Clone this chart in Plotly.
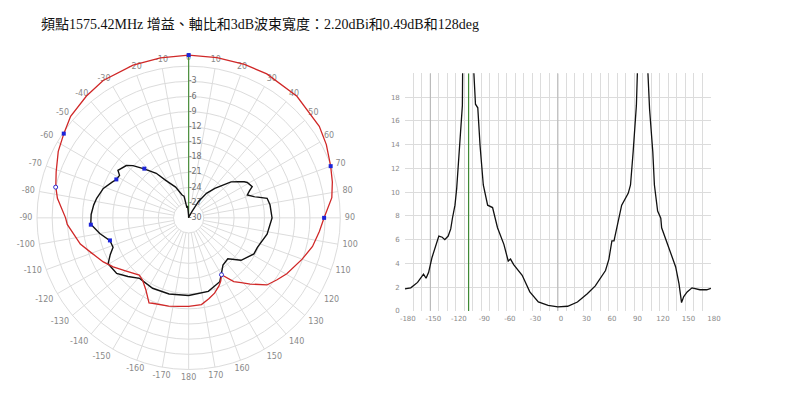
import math
import plotly.graph_objects as go

# ---------------- data ----------------
title_text = "頻點1575.42MHz 增益、軸比和3dB波束寬度：2.20dBi和0.49dB和128deg"

# Polar: gain (red) pattern, angle in deg, value in dB
red_theta = [-180, -173.7, -167.3, -157, -155, -149.2, -143.4, -139.2, -130, -123, -117.3, -110,
             -103.6, -93.1, -90, -81.5, -76.8, -70.8, -63, -55.9, -49.3, -40, -31.9, -20, -10,
             0, 10, 20, 28.5, 41.7, 55, 62, 70, 76, 82, 90, 96, 103, 110, 119.7, 125, 130.6,
             137, 141, 144.7, 150, 153, 156, 161, 166, 171.6, 180]
red_db = [-12.5, -12.4, -12.1, -11.65, -11.45, -13.45, -14.7, -15.05, -13.7, -12.2, -11.0, -9.6,
          -7.95, -5.95, -5.65, -3.75, -3.0, -2.25, -1.05, -0.2, 0.8, 1.45, 2.0, 2.15, 2.15,
          2.2, 2.2, 2.3, 2.4, 2.2, 1.55, 0.85, -0.1, -0.7, -1.4, -3.2, -4.0, -4.85, -6.1, -7.65,
          -8.65, -9.6, -12.1, -13.5, -14.55, -17.0, -16.0, -15.25, -14.25, -13.5, -12.65, -12.5]

# Polar: second (black) pattern
blk_theta = [-180, -165.6, -152.9, -141, -134, -127.7, -119.7, -115, -111.3, -106.2, -100, -93.8,
             -88, -82.2, -78, -71, -65, -62.1, -58.4, -56.1, -50, -46.8, -42.2, -36, -31.4, -23,
             -16, -12, -9.6, -5, -2, 0, 15, 28, 31, 36, 41.6, 49.7, 54, 57, 58.9, 63.9, 66, 68.7,
             72, 76, 80.9, 90, 101.8, 113.2, 118.9, 129, 136.2, 144, 150, 154, 165, 180]
blk_db = [-14.65, -14.45, -14.35, -14.6, -13.3, -12.0, -11.65, -12.9, -13.95, -13.8, -12.15, -10.6,
          -10.7, -11.05, -11.4, -12.15, -13.3, -13.8, -13.95, -13.15, -13.9, -14.9, -16.9, -19.1,
          -21.3, -23.4, -25.3, -25.6, -28.0, -27.6, -29.4, -30.0, -29.8, -28.5, -26.2, -24.0,
          -22.2, -19.0, -17.8, -16.9, -16.45, -16.0, -16.8, -17.55, -16.4, -14.0, -13.7, -13.5,
          -14.15, -15.2, -15.25, -16.65, -18.8, -18.45, -17.1, -15.95, -14.95, -14.65]

# blue cursor markers
mark_fill_theta = [0, -56, 70, 90, -42, -62, -94, -106]
mark_fill_db = [2.2, -0.2, -0.1, -3.2, -16.9, -13.8, -10.6, -13.8]
mark_open_theta = [-77, 150]
mark_open_db = [-3.0, -17.0]

cursor_angle = 0
peak_gain = 2.2

radial_ticks = [-3, -6, -9, -12, -15, -18, -21, -24, -27, -30]
angle_labels = list(range(0, 190, 10)) + list(range(-170, 0, 10))

# Cartesian: axial ratio vs angle
ar_angle = [-180, -173, -165, -158, -155, -152, -148, -144, -140, -136, -133, -129, -126, -124,
            -121, -119, -116, -112.3, -112, -105, -99, -96.9, -94.2, -91.5, -87.7, -82.6, -76.8,
            -75, -71, -63.5, -58.4, -55.7, -52, -42, -33, -23, -11.5, 0, 11.5, 23, 34.6, 44, 50,
            56, 60, 63.5, 66, 69, 71.5, 75, 82.7, 85.4, 88.5, 92.3, 93.6, 100, 105.7, 107.8,
            111.6, 113.5, 117.3, 121, 122, 127, 132.7, 138.5, 142.4, 145.4, 148, 152, 157.7,
            167, 175, 180]
ar_val = [1.86, 1.94, 2.4, 3.1, 2.75, 3.25, 4.5, 5.5, 6.3, 6.2, 6.0, 6.3, 6.9, 7.8,
          8.9, 10.3, 13.4, 17.3, 20.3, 30, 20.3, 17.4, 17.1, 13.9, 10.6, 8.9, 8.7,
          8.1, 7.0, 5.6, 4.2, 4.36, 3.9, 3.0, 1.6, 0.75, 0.47, 0.33, 0.39, 0.75, 1.45, 2.1, 2.8,
          3.4, 4.36, 5.9, 5.9, 7.0, 7.8, 8.9, 9.9, 10.6, 13.4, 17.3, 20.3, 30, 20.3, 17.0,
          13.4, 10.6, 8.4, 7.8, 7.0, 6.0, 4.8, 3.7, 2.3, 0.7, 1.2, 1.6, 1.94,
          1.78, 1.78, 1.9]
ar_cursor = -105
ar_dark_lines = [-150, 0]
x_ticks = list(range(-180, 181, 30))
y_ticks = list(range(0, 20, 2))

# ---------------- figure ----------------
W, H = 800, 394
OFF = 8  # page body margin offset compensation


def px_x(x):
    return (x - OFF) / W


def px_y(y):
    return (H - (y - OFF)) / H


def label_pos(a):
    s, c = math.sin(math.radians(a)), math.cos(math.radians(a))
    v = "top" if c > 0.4 else ("bottom" if c < -0.4 else "middle")
    h = "right" if s > 0.4 else ("left" if s < -0.4 else "center")
    return f"{v} {h}"


fig = go.Figure()
GRID = "#dcdcdc"
LABEL = "#8a8a8a"
SMALL = dict(family="DejaVu Sans", size=7, color=LABEL)

# spokes (angular grid) from -27 dB circle to 0 dB circle
sp_t, sp_r = [], []
for a in range(0, 360, 10):
    sp_t += [a, a, None]
    sp_r += [-27, 0, None]
fig.add_trace(go.Scatterpolar(theta=sp_t, r=sp_r, mode="lines", connectgaps=False,
                              line=dict(color=GRID, width=1), hoverinfo="skip"))

# angular labels (anchored just outside the outer grid circle)
fig.add_trace(go.Scatterpolar(theta=angle_labels, r=[0.9] * len(angle_labels), mode="text",
                              text=[str(a) for a in angle_labels],
                              textposition=[label_pos(a) for a in angle_labels],
                              textfont=dict(family="DejaVu Sans", size=8, color=LABEL),
                              hoverinfo="skip"))

# green cursor line
fig.add_trace(go.Scatterpolar(theta=[cursor_angle, cursor_angle], r=[-30, peak_gain], mode="lines",
                              line=dict(color="#4a8f3c", width=1.2), hoverinfo="skip"))

# radial labels
fig.add_trace(go.Scatterpolar(theta=[cursor_angle] * len(radial_ticks), r=radial_ticks, mode="text",
                              text=[str(v) for v in radial_ticks], textposition="middle right",
                              textfont=dict(family="DejaVu Sans", size=8, color="#707070"),
                              hoverinfo="skip"))

fig.add_trace(go.Scatterpolar(theta=blk_theta, r=blk_db, mode="lines",
                              line=dict(color="#111111", width=1.4)))
fig.add_trace(go.Scatterpolar(theta=red_theta, r=red_db, mode="lines",
                              line=dict(color="#d02828", width=1.3)))
fig.add_trace(go.Scatterpolar(theta=mark_fill_theta, r=mark_fill_db, mode="markers",
                              marker=dict(color="#1c24d8", size=4, symbol="square")))
fig.add_trace(go.Scatterpolar(theta=mark_open_theta, r=mark_open_db, mode="markers",
                              marker=dict(color="white", size=4, symbol="circle",
                                          line=dict(color="#2a2ad0", width=1))))

# cartesian: dark grid lines, cursor, curve
for xv in ar_dark_lines:
    fig.add_trace(go.Scatter(x=[xv, xv], y=[0, 20], mode="lines",
                             line=dict(color="#b4b4b4", width=1), hoverinfo="skip"))
fig.add_trace(go.Scatter(x=[ar_cursor, ar_cursor], y=[0, 20], mode="lines",
                         line=dict(color="#3f8a35", width=1.2), hoverinfo="skip"))
fig.add_trace(go.Scatter(x=ar_angle, y=ar_val, mode="lines",
                         line=dict(color="#111111", width=1.3)))

R = 170
cx, cy = 187, 220
fig.update_layout(
    width=W, height=H,
    margin=dict(l=0, r=0, t=0, b=0),
    paper_bgcolor="white", plot_bgcolor="white",
    showlegend=False,
    polar=dict(
        domain=dict(x=[px_x(cx - R), px_x(cx + R)], y=[px_y(cy + R), px_y(cy - R)]),
        bgcolor="white",
        angularaxis=dict(rotation=90, direction="clockwise", showgrid=False,
                         showticklabels=False, showline=False, ticks=""),
        radialaxis=dict(range=[-30, 3], tickvals=[-27, -24, -21, -18, -15, -12, -9, -6, -3, 0],
                        showticklabels=False, showline=False, ticks="",
                        gridcolor=GRID, gridwidth=1),
    ),
    xaxis=dict(domain=[px_x(407.3), px_x(719.3)], range=[-180, 180],
               tickvals=x_ticks, ticktext=[str(v) for v in x_ticks],
               minor=dict(dtick=10, tick0=0, showgrid=True, gridcolor=GRID, gridwidth=1, ticks=""),
               showgrid=True, gridcolor=GRID, gridwidth=1, zeroline=False, showline=False,
               ticks="", tickfont=SMALL, ticklabelshift=3, ticklabelstandoff=2, anchor="y"),
    yaxis=dict(domain=[px_y(314), px_y(74)], range=[0, 20],
               tickvals=y_ticks, ticktext=[str(v) for v in y_ticks],
               minor=dict(tickvals=[20], showgrid=True, gridcolor=GRID, gridwidth=1, ticks=""),
               showgrid=True, gridcolor=GRID, gridwidth=1, zeroline=False, showline=False,
               ticks="", tickfont=SMALL, ticklabelstandoff=4, anchor="x"),
    annotations=[dict(text=title_text, x=px_x(35), y=px_y(24), xref="paper", yref="paper",
                      xanchor="left", yanchor="middle", showarrow=False,
                      font=dict(family="Liberation Serif, Noto Sans CJK TC", size=14, color="#111111"))],
)

fig.write_html("out.html")
